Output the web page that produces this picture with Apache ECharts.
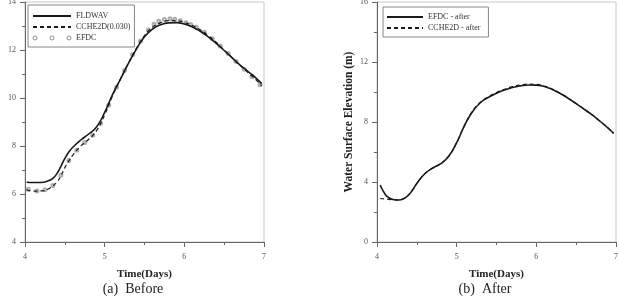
<!DOCTYPE html>
<html>
<head>
<meta charset="utf-8">
<script src="https://cdn.jsdelivr.net/npm/echarts@6/dist/echarts.min.js"></script>
<style>
  html, body { margin: 0; padding: 0; background: #fff; }
  #chart { width: 619px; height: 300px; }
</style>
</head>
<body>
<div id="chart"></div>
<script>
// (a) Before
const fldwavX = [4.02, 4.1, 4.2, 4.3, 4.35, 4.4, 4.45, 4.5, 4.55, 4.6, 4.7, 4.8, 4.9, 5.0, 5.1, 5.2, 5.3, 5.4, 5.5, 5.6, 5.7, 5.8, 5.9, 6.0, 6.1, 6.2, 6.3, 6.4, 6.5, 6.6, 6.7, 6.8, 6.9, 6.97];
const fldwavY = [6.49, 6.48, 6.48, 6.56, 6.65, 6.85, 7.15, 7.48, 7.75, 7.95, 8.25, 8.5, 8.8, 9.4, 10.15, 10.8, 11.45, 12.05, 12.55, 12.87, 13.05, 13.13, 13.14, 13.08, 12.96, 12.78, 12.55, 12.28, 11.98, 11.67, 11.37, 11.1, 10.83, 10.6];
const ccheX = [4.02, 4.1, 4.2, 4.3, 4.4, 4.45, 4.5, 4.55, 4.6, 4.7, 4.8, 4.9, 5.0, 5.1, 5.2, 5.3, 5.4, 5.5, 5.6, 5.7, 5.8, 5.9, 6.0, 6.1, 6.2, 6.3, 6.4, 6.5, 6.6, 6.7, 6.8, 6.9, 6.97];
const ccheY = [6.17, 6.12, 6.13, 6.22, 6.5, 6.75, 7.1, 7.38, 7.62, 8.0, 8.28, 8.65, 9.3, 10.1, 10.8, 11.47, 12.08, 12.6, 12.95, 13.13, 13.22, 13.22, 13.15, 13.02, 12.84, 12.6, 12.32, 12.0, 11.68, 11.36, 11.06, 10.76, 10.5];
const efdcX = [4.04, 4.15, 4.25, 4.35, 4.45, 4.55, 4.65, 4.75, 4.85, 4.95, 5.05, 5.15, 5.25, 5.35, 5.45, 5.55, 5.62, 5.68, 5.75, 5.82, 5.88, 5.95, 6.02, 6.08, 6.15, 6.25, 6.35, 6.45, 6.55, 6.65, 6.75, 6.85, 6.95];
const efdcY = [6.2, 6.13, 6.18, 6.35, 6.78, 7.4, 7.82, 8.15, 8.45, 8.95, 9.7, 10.45, 11.15, 11.8, 12.38, 12.83, 13.07, 13.2, 13.27, 13.3, 13.28, 13.22, 13.14, 13.06, 12.95, 12.74, 12.47, 12.17, 11.85, 11.52, 11.2, 10.9, 10.55];

// (b) After
const efdcAfterX = [4.04, 4.1, 4.15, 4.2, 4.25, 4.3, 4.35, 4.4, 4.45, 4.5, 4.6, 4.7, 4.8, 4.9, 5.0, 5.1, 5.2, 5.3, 5.4, 5.5, 5.6, 5.7, 5.8, 5.9, 6.0, 6.1, 6.2, 6.3, 6.4, 6.5, 6.6, 6.7, 6.8, 6.9, 6.97];
const efdcAfterY = [3.8, 3.2, 2.95, 2.83, 2.8, 2.82, 2.93, 3.15, 3.5, 3.9, 4.55, 4.93, 5.22, 5.72, 6.62, 7.78, 8.7, 9.3, 9.65, 9.92, 10.13, 10.3, 10.41, 10.47, 10.46, 10.36, 10.17, 9.9, 9.58, 9.22, 8.85, 8.48, 8.05, 7.6, 7.24];
const ccheAfterX = [4.04, 4.1, 4.15, 4.2, 4.25, 4.3, 4.35, 4.4, 4.45, 4.5, 4.6, 4.7, 4.8, 4.9, 5.0, 5.1, 5.2, 5.3, 5.4, 5.5, 5.6, 5.7, 5.8, 5.9, 6.0, 6.1, 6.2, 6.3, 6.4, 6.5, 6.6, 6.7, 6.8, 6.9, 6.97];
const ccheAfterY = [2.9, 2.87, 2.84, 2.81, 2.8, 2.83, 2.94, 3.16, 3.5, 3.9, 4.56, 4.94, 5.23, 5.73, 6.63, 7.8, 8.73, 9.33, 9.69, 9.97, 10.18, 10.36, 10.47, 10.52, 10.51, 10.4, 10.2, 9.92, 9.6, 9.23, 8.86, 8.48, 8.05, 7.6, 7.24];

const yTitle = "Water Surface Elevation (m)";
const serif = "'Liberation Serif', 'DejaVu Serif', serif";
const lineColor = "#1a1a1a";

function zip(xs, ys) {
  return xs.map((x, i) => [x, ys[i]]);
}

function xAxisFor(idx) {
  return {
    type: "value", gridIndex: idx, min: 4, max: 7, interval: 1,
    name: "Time(Days)", nameLocation: "middle", nameGap: 27,
    nameTextStyle: { fontFamily: serif, fontWeight: "bold", fontSize: 11, color: "#222" },
    axisLine: { lineStyle: { color: "#666" } },
    axisTick: { length: 5, lineStyle: { color: "#666" } },
    minorTick: { show: true, splitNumber: 2, length: 3, lineStyle: { color: "#666" } },
    axisLabel: { fontFamily: serif, fontSize: 8, color: "#555", margin: 11 },
    splitLine: { show: false }
  };
}

function yAxisFor(idx, min, max, interval, gap, titleColor) {
  return {
    type: "value", gridIndex: idx, min: min, max: max, interval: interval,
    name: yTitle, nameLocation: "middle", nameGap: gap, nameRotate: 90,
    nameTextStyle: { fontFamily: serif, fontWeight: "bold", fontSize: 11.5, color: titleColor },
    axisLine: { show: true, lineStyle: { color: "#666" } },
    axisTick: { show: true, length: 5, lineStyle: { color: "#666" } },
    minorTick: { show: true, splitNumber: 2, length: 3, lineStyle: { color: "#666" } },
    axisLabel: { fontFamily: serif, fontSize: 8, color: "#555", margin: 9 },
    splitLine: { show: false }
  };
}

const threeCircles = "path://M0,2a2,2 0 1,0 4,0a2,2 0 1,0 -4,0M17,2a2,2 0 1,0 4,0a2,2 0 1,0 -4,0M34,2a2,2 0 1,0 4,0a2,2 0 1,0 -4,0";

const legendText = { fontFamily: serif, fontSize: 8, color: "#333", lineHeight: 10 };
const noDot = { opacity: 0 };

let myChart = echarts.init(document.getElementById("chart"));
let option = {
  animation: false,
  backgroundColor: "#fff",
  grid: [
    { left: 25, right: 355, top: 2, bottom: 58, show: true, borderColor: "#c8c8c8", borderWidth: 1, outerBoundsMode: "none" },
    { left: 377, right: 3, top: 2, bottom: 58, show: true, borderColor: "#c8c8c8", borderWidth: 1, outerBoundsMode: "none" }
  ],
  xAxis: [xAxisFor(0), xAxisFor(1)],
  yAxis: [yAxisFor(0, 4, 14, 2, 29, "#999"), yAxisFor(1, 0, 16, 4, 22, "#222")],
  legend: [
    {
      left: 28, top: 5, orient: "vertical", itemWidth: 38, itemHeight: 4, itemGap: 1,
      padding: [6, 4, 4, 4], borderColor: "#888", borderWidth: 1,
      textStyle: legendText,
      data: [
        { name: "FLDWAV", itemStyle: noDot },
        { name: "CCHE2D(0.030)", itemStyle: noDot },
        { name: "EFDC", icon: threeCircles, itemStyle: { color: "transparent", borderColor: "#555", borderWidth: 0.8 } }
      ]
    },
    {
      left: 383, top: 7, orient: "vertical", itemWidth: 36, itemHeight: 4, itemGap: 1,
      padding: [5, 8, 4, 3], borderColor: "#888", borderWidth: 1,
      textStyle: legendText,
      data: [
        { name: "EFDC - after", itemStyle: noDot },
        { name: "CCHE2D - after", itemStyle: noDot }
      ]
    }
  ],
  title: [
    { text: "(a)  Before", left: 128, top: 277, textAlign: "center",
      textStyle: { fontFamily: serif, fontWeight: "normal", fontSize: 14, color: "#222" } },
    { text: "(b)  After", left: 480, top: 277, textAlign: "center",
      textStyle: { fontFamily: serif, fontWeight: "normal", fontSize: 14, color: "#222" } }
  ],
  series: [
    { name: "EFDC", type: "scatter", xAxisIndex: 0, yAxisIndex: 0, data: zip(efdcX, efdcY),
      symbol: "emptyCircle", symbolSize: 3, itemStyle: { color: "#999", borderWidth: 0.6 } },
    { name: "FLDWAV", type: "line", xAxisIndex: 0, yAxisIndex: 0, data: zip(fldwavX, fldwavY),
      smooth: 0.5, symbol: "none", lineStyle: { color: lineColor, width: 1.6 }, itemStyle: { color: lineColor } },
    { name: "CCHE2D(0.030)", type: "line", xAxisIndex: 0, yAxisIndex: 0, data: zip(ccheX, ccheY),
      smooth: 0.5, symbol: "none", lineStyle: { color: lineColor, width: 1.2, type: [4, 3] }, itemStyle: { color: lineColor } },
    { name: "EFDC - after", type: "line", xAxisIndex: 1, yAxisIndex: 1, data: zip(efdcAfterX, efdcAfterY),
      smooth: 0.5, symbol: "none", lineStyle: { color: lineColor, width: 1.6 }, itemStyle: { color: lineColor } },
    { name: "CCHE2D - after", type: "line", xAxisIndex: 1, yAxisIndex: 1, data: zip(ccheAfterX, ccheAfterY),
      smooth: 0.5, symbol: "none", lineStyle: { color: lineColor, width: 1.2, type: [4, 3] }, itemStyle: { color: lineColor } }
  ]
};
myChart.setOption(option);
</script>
</body>
</html>
